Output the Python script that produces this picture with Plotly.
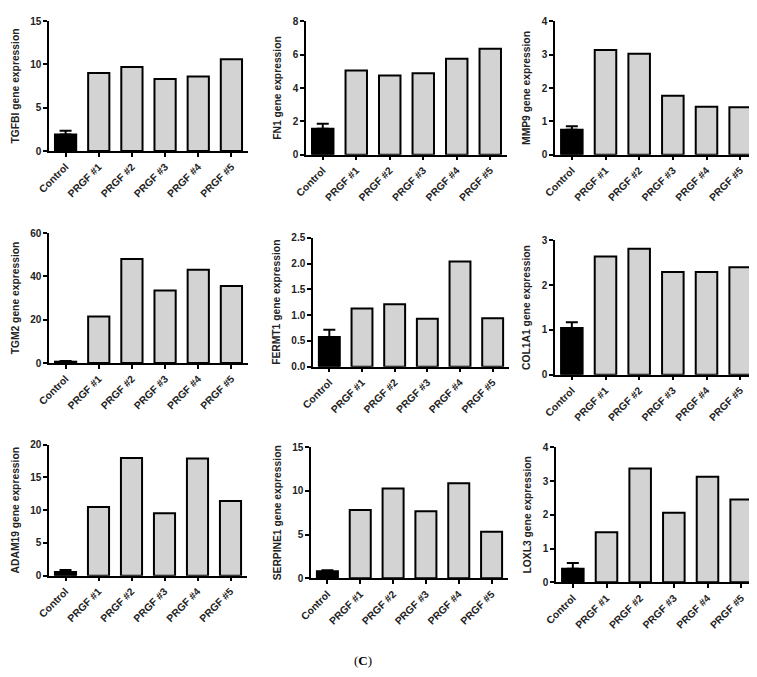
import plotly.graph_objects as go

categories = ["Control", "PRGF #1", "PRGF #2", "PRGF #3", "PRGF #4", "PRGF #5"]
genes = ["TGFBI", "FN1", "MMP9", "TGM2", "FERMT1", "COL1A1", "ADAM19", "SERPINE1", "LOXL3"]

tgfbi = [1.9, 9.0, 9.7, 8.3, 8.6, 10.6]
fn1 = [1.55, 5.05, 4.75, 4.88, 5.76, 6.36]
mmp9 = [0.75, 3.14, 3.03, 1.77, 1.44, 1.42]
tgm2 = [0.6, 21.5, 48.0, 33.5, 43.0, 35.5]
fermt1 = [0.575, 1.13, 1.21, 0.93, 2.04, 0.94]
col1a1 = [1.04, 2.64, 2.81, 2.29, 2.29, 2.40]
adam19 = [0.56, 10.48, 17.96, 9.52, 17.91, 11.4]
serpine1 = [0.8, 7.82, 10.27, 7.67, 10.88, 5.34]
loxl3 = [0.40, 1.48, 3.37, 2.06, 3.13, 2.45]

control_err = [0.45, 0.3, 0.1, 0.3, 0.14, 0.13, 0.3, 0.12, 0.17]

y_max = [15, 8, 4, 60, 2.5, 3, 20, 15, 4]
y_dtick = [5, 2, 1, 20, 0.5, 1, 5, 5, 1]
y_format = ["", "", "", "", ".1f", "", "", "", ""]

series = [tgfbi, fn1, mmp9, tgm2, fermt1, col1a1, adam19, serpine1, loxl3]

# panel boxes in pixels: (x0, x1, ytop, ybottom)
W, H = 757, 677
boxes = [
    (41, 240, 13, 143), (298, 499, 13.3, 146.7), (547, 749, 13.3, 146.7),
    (41, 240, 225, 355), (305, 501, 229.7, 358.7), (547, 749, 232.3, 366.7),
    (41, 239, 436.7, 567.7), (303, 500, 439.3, 570.3), (548, 750, 439.3, 574.3),
]

font_family = "Liberation Sans, Arial, sans-serif"
fig = go.Figure()
layout = {}
for i, (gene, vals) in enumerate(zip(genes, series)):
    n = i + 1
    xa = "x" if n == 1 else f"x{n}"
    ya = "y" if n == 1 else f"y{n}"
    fig.add_trace(go.Bar(
        x=categories[:1], y=vals[:1], xaxis=xa, yaxis=ya,
        marker=dict(color="black", line=dict(color="black", width=2)),
        error_y=dict(type="data", array=[control_err[i]], arrayminus=[0], symmetric=False,
                     color="black", thickness=2, width=6),
        width=0.64, showlegend=False, hoverinfo="skip",
    ))
    fig.add_trace(go.Bar(
        x=categories[1:], y=vals[1:], xaxis=xa, yaxis=ya,
        marker=dict(color="#d3d3d3", line=dict(color="black", width=2)),
        width=0.64, showlegend=False, hoverinfo="skip",
    ))
    x0, x1, yt, yb = boxes[i]
    key_x = "xaxis" if n == 1 else f"xaxis{n}"
    key_y = "yaxis" if n == 1 else f"yaxis{n}"
    layout[key_x] = dict(
        domain=[x0 / W, x1 / W], anchor=ya, range=[-0.5, 5.5],
        categoryorder="array", categoryarray=categories,
        showline=True, linecolor="black", linewidth=1.5,
        ticks="outside", ticklen=4, tickwidth=1.5, tickcolor="black",
        tickangle=-45, tickfont=dict(family=font_family, size=10.3, color="#222", weight="bold"),
        showgrid=False, zeroline=False, fixedrange=True, automargin=False,
    )
    layout[key_y] = dict(
        domain=[1 - yb / H, 1 - yt / H], anchor=xa, range=[0, y_max[i]],
        dtick=y_dtick[i], tick0=0, tickformat=y_format[i],
        showline=True, linecolor="black", linewidth=1.5,
        ticks="outside", ticklen=4, tickwidth=1.5, tickcolor="black",
        tickfont=dict(family=font_family, size=10, color="#222", weight="bold"),
        title=dict(text=f"{gene} gene expression",
                   font=dict(family=font_family, size=10.3, color="#222", weight="bold"),
                   standoff=9),
        showgrid=False, zeroline=False, fixedrange=True, automargin=False,
    )

fig.update_layout(
    width=W, height=H, margin=dict(l=0, r=0, t=0, b=0),
    paper_bgcolor="white", plot_bgcolor="white",
    barmode="overlay", showlegend=False,
    annotations=[dict(text="(<b>C</b>)", x=355 / W, y=1 - 662 / H, xref="paper", yref="paper",
                      showarrow=False, font=dict(family="Liberation Serif, serif", size=13, color="black"))],
    **layout,
)
fig.write_html("out.html")
